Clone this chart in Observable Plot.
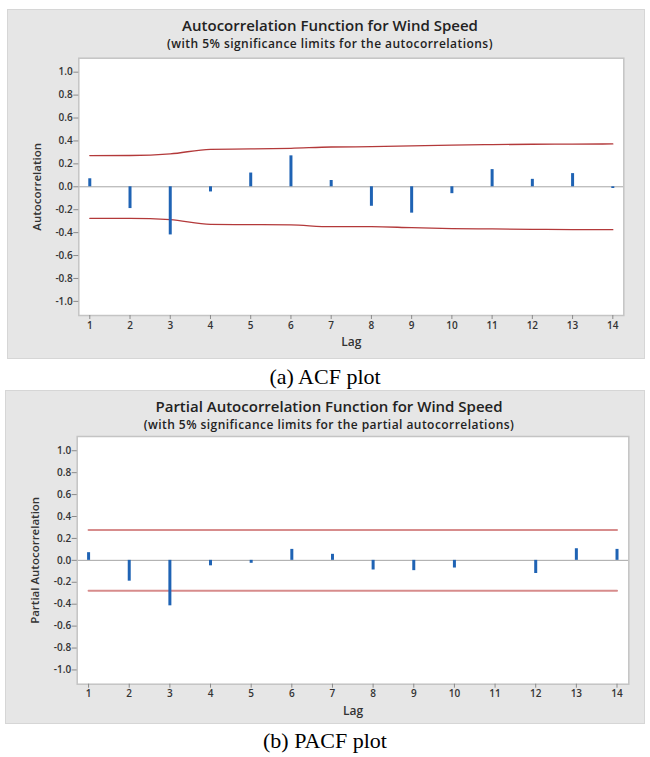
<!DOCTYPE html>
<html>
<head>
<meta charset="utf-8">
<script src="https://cdn.jsdelivr.net/npm/d3@7"></script>
<script src="https://cdn.jsdelivr.net/npm/@observablehq/plot@0.6"></script>
<style>
  html, body { margin: 0; padding: 0; background: #ffffff; }
  #page { position: relative; width: 650px; height: 757px; overflow: hidden; font-family: "Open Sans", sans-serif; }
  .panel { position: absolute; background: #e6e6e6; border: 1px solid #d6d6d6; box-sizing: border-box; }
  .title { position: absolute; left: 8px; right: 0; text-align: center; color: #222; font-weight: 600; white-space: nowrap; }
  .t1 { top: 8px; font-size: 15px; line-height: 14px; }
  .t2 { top: 27.8px; font-size: 12px; line-height: 12px; letter-spacing: 0.45px; }
  .plotwrap { position: absolute; left: 0; top: 40px; }
  .caption { position: absolute; left: 0; width: 650px; text-align: center; font-family: "Liberation Serif", "Times New Roman", serif; font-size: 22px; line-height: 22px; color: #000; }
</style>
</head>
<body>
<div id="page">
  <div class="panel" id="panelA" style="left:7px; top:9px; width:638px; height:350px;">
    <div class="title t1">Autocorrelation Function for Wind Speed</div>
    <div class="title t2">(with 5% significance limits for the autocorrelations)</div>
    <div class="plotwrap" id="plotA"></div>
  </div>
  <div class="caption" style="top:366px;">(a) ACF plot</div>
  <div class="panel" id="panelB" style="left:5px; top:390px; width:640px; height:334px;">
    <div class="title t1">Partial Autocorrelation Function for Wind Speed</div>
    <div class="title t2">(with 5% significance limits for the partial autocorrelations)</div>
    <div class="plotwrap" id="plotB"></div>
  </div>
  <div class="caption" style="top:730px;">(b) PACF plot</div>
</div>
<script>
// ---- data ----
const lags = [1, 2, 3, 4, 5, 6, 7, 8, 9, 10, 11, 12, 13, 14];
const acfValues = [0.07, -0.19, -0.42, -0.045, 0.12, 0.27, 0.055, -0.17, -0.23, -0.06, 0.15, 0.065, 0.115, -0.015];
const acfUpper = [0.272, 0.273, 0.287, 0.327, 0.330, 0.336, 0.347, 0.350, 0.357, 0.364, 0.368, 0.371, 0.372, 0.374];
const acfLower = [-0.275, -0.275, -0.287, -0.328, -0.330, -0.333, -0.348, -0.348, -0.357, -0.365, -0.368, -0.371, -0.374, -0.374];
const pacfValues = [0.07, -0.19, -0.415, -0.05, -0.027, 0.10, 0.055, -0.088, -0.094, -0.07, 0, -0.12, 0.106, 0.10];
const pacfUpper = [0.277, 0.277, 0.277, 0.277, 0.277, 0.277, 0.277, 0.277, 0.277, 0.277, 0.277, 0.277, 0.277, 0.277];
const pacfLower = [-0.277, -0.277, -0.277, -0.277, -0.277, -0.277, -0.277, -0.277, -0.277, -0.277, -0.277, -0.277, -0.277, -0.277];
const yTicks = [-1.0, -0.8, -0.6, -0.4, -0.2, 0.0, 0.2, 0.4, 0.6, 0.8, 1.0];
const xTicks = lags;

function acfChart({values, upper, lower, yLabel, width, height, margins, xDomain, yDomain, limitColor, limitWidth, curve, yLabelDx}) {
  const bars = lags.map((lag, i) => ({lag, v: values[i]}));
  const lim = lags.map((lag, i) => ({lag, up: upper[i], lo: lower[i]}));
  return Plot.plot({
    width, height,
    marginTop: margins[0], marginRight: margins[1], marginBottom: margins[2], marginLeft: margins[3],
    style: {fontFamily: "Open Sans, sans-serif", fontSize: "10px", fontWeight: 600, color: "#333", background: "transparent", overflow: "visible"},
    x: {domain: xDomain, axis: null},
    y: {domain: yDomain, axis: null},
    marks: [
      Plot.frame({fill: "white", stroke: "none"}),
      Plot.ruleY([0], {stroke: "#a6a6a6", strokeWidth: 1}),
      Plot.line(lim, {x: "lag", y: "up", stroke: limitColor, strokeWidth: limitWidth, curve}),
      Plot.line(lim, {x: "lag", y: "lo", stroke: limitColor, strokeWidth: limitWidth, curve}),
      Plot.ruleX(bars, {x: "lag", y1: 0, y2: "v", stroke: "#1f63b4", strokeWidth: 3}),
      Plot.frame({stroke: "#c4c4c4", strokeWidth: 1.5}),
      Plot.axisY(yTicks, {tickSize: 5, tickPadding: 1, stroke: "#8a8a8a", fill: "#333", tickFormat: d => d.toFixed(1), label: null}),
      Plot.axisX(xTicks, {tickSize: 4, tickPadding: 2, stroke: "#8a8a8a", fill: "#333", tickFormat: d => String(d), label: null}),
      Plot.text(["Lag"], {frameAnchor: "bottom", lineAnchor: "middle", textAnchor: "middle", dy: 27, text: d => d, fontSize: 12, fontWeight: 600, fill: "#333"}),
      Plot.text([yLabel], {frameAnchor: "left", textAnchor: "middle", lineAnchor: "middle", dx: yLabelDx, rotate: -90, text: d => d, fontSize: 11.5, fontWeight: 600, fill: "#333"})
    ]
  });
}

document.getElementById("plotA").append(acfChart({
  values: acfValues, upper: acfUpper, lower: acfLower, yLabel: "Autocorrelation",
  width: 636, height: 309, margins: [7.7, 20.7, 44, 70.3],
  xDomain: [0.727, 14.273], yDomain: [-1.123, 1.122],
  limitColor: "#b3393a", limitWidth: 1.3, curve: "monotone-x", yLabelDx: -41
}));

document.getElementById("plotB").append(acfChart({
  values: pacfValues, upper: pacfUpper, lower: pacfLower, yLabel: "Partial Autocorrelation",
  width: 638, height: 293, margins: [5, 15.7, 40.3, 70.7],
  xDomain: [0.72, 14.29], yDomain: [-1.13, 1.13],
  limitColor: "#d78c8c", limitWidth: 2, curve: "linear", yLabelDx: -42
}));
</script>
</body>
</html>
